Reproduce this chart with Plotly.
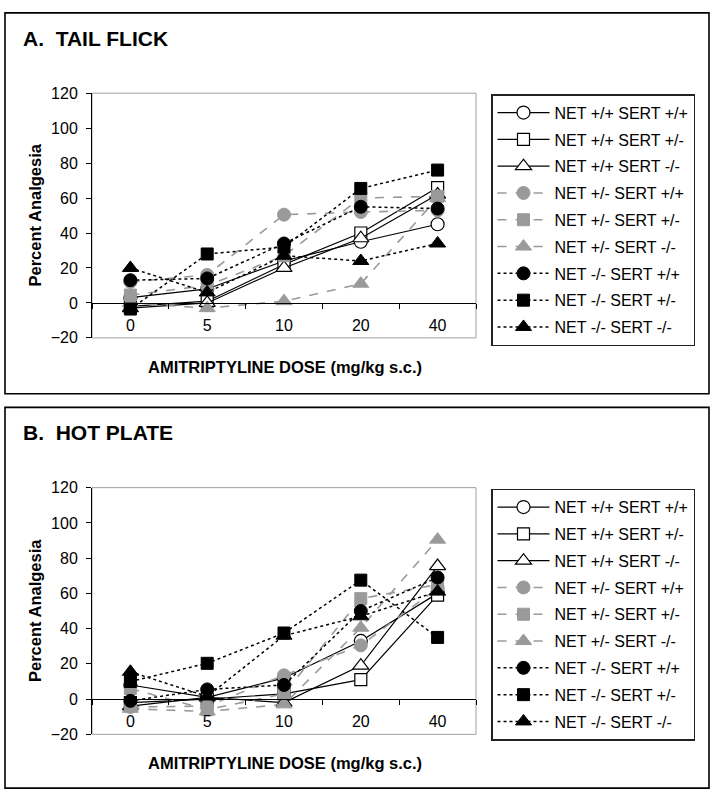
import plotly.graph_objects as go

W, H = 714, 805

doses = ["0", "5", "10", "20", "40"]
labels = [
    "NET +/+ SERT +/+", "NET +/+ SERT +/-", "NET +/+ SERT -/-",
    "NET +/- SERT +/+", "NET +/- SERT +/-", "NET +/- SERT -/-",
    "NET -/- SERT +/+", "NET -/- SERT +/-", "NET -/- SERT -/-",
]

# Panel A: Tail flick (% analgesia)
tf_wt_wt = [3, 8, 24, 35, 45]
tf_wt_het = [-2, 1, 22, 40, 66]
tf_wt_ko = [-3, 0, 20, 37, 62]
tf_het_wt = [12, 16, 50.5, 52, 53]
tf_het_het = [4.5, 10, 27, 60, 61]
tf_het_ko = [0, -3, 1, 11, 60]
tf_ko_wt = [13, 14, 34, 55, 54]
tf_ko_het = [-3.5, 28, 32, 65.5, 76]
tf_ko_ko = [20, 6, 27, 24, 34]

# Panel B: Hot plate (% analgesia)
hp_wt_wt = [8, 1, 12, 33, 60]
hp_wt_het = [-2, 0, 3, 11, 59]
hp_wt_ko = [-4, 1, -2, 19, 75.5]
hp_het_wt = [-4.5, -4, 13.5, 30.5, 63]
hp_het_het = [6, -6, 3, 57, 65]
hp_het_ko = [-5.5, -7, -3, 40.5, 90.5]
hp_ko_wt = [-1, 5.5, 8, 50, 69]
hp_ko_het = [10, 20.3, 37.5, 67.5, 35]
hp_ko_ko = [15.5, 1.5, 36, 47, 61]

tail_flick = [tf_wt_wt, tf_wt_het, tf_wt_ko, tf_het_wt, tf_het_het, tf_het_ko,
              tf_ko_wt, tf_ko_het, tf_ko_ko]
hot_plate = [hp_wt_wt, hp_wt_het, hp_wt_ko, hp_het_wt, hp_het_het, hp_het_ko,
             hp_ko_wt, hp_ko_het, hp_ko_ko]

y_ticks = [-20, 0, 20, 40, 60, 80, 100, 120]

FONT = "Liberation Sans, Arial, sans-serif"
GREY = "#9a9a9a"


def px(x):
    return x / W


def py(y):
    return 1 - y / H


symbols = ["circle", "square", "triangle-up"]
sizes = [13, 12, 14]


def style(i):
    g, s = divmod(i, 3)
    if g == 0:
        line = dict(color="black", width=1.2, dash="solid")
        marker = dict(symbol=symbols[s], size=sizes[s], color="white",
                      line=dict(color="black", width=1.2))
    elif g == 1:
        line = dict(color=GREY, width=1.6, dash="dash")
        marker = dict(symbol=symbols[s], size=sizes[s], color=GREY,
                      line=dict(color=GREY, width=1))
    else:
        line = dict(color="black", width=1.5, dash="dot")
        marker = dict(symbol=symbols[s], size=sizes[s], color="black",
                      line=dict(color="black", width=1))
    return line, marker


fig = go.Figure()

panels = [
    dict(data=tail_flick, xa="x", ya="y", legend="legend", top=87, bot=337),
    dict(data=hot_plate, xa="x2", ya="y2", legend="legend2", top=490, bot=742),
]

for p in panels:
    for i, vals in enumerate(p["data"]):
        line, marker = style(i)
        fig.add_trace(go.Scatter(
            x=doses, y=vals, mode="lines+markers", name=labels[i],
            line=line, marker=marker, xaxis=p["xa"], yaxis=p["ya"],
            legend=p["legend"], legendgroup=p["legend"] + str(i),
            cliponaxis=False,
        ))

x_dom = [px(92), px(476)]
axis_font = dict(family=FONT, size=16, color="black")

layout_axes = {}
for k, p in enumerate(panels):
    sfx = "" if k == 0 else "2"
    top, bot = p["top"], p["bot"]
    zero_px = bot - (0 - (-20)) * (bot - top) / 140.0
    layout_axes["yaxis" + sfx] = dict(
        domain=[py(bot), py(top)], range=[-20, 120], tickvals=y_ticks,
        showgrid=False, zeroline=False, showline=True, linecolor="black",
        linewidth=1, ticks="outside", ticklen=5, tickcolor="black",
        tickfont=axis_font, anchor="x" + sfx, ticklabelstandoff=5,
    )
    layout_axes["xaxis" + sfx] = dict(
        domain=x_dom, type="category", categoryorder="array",
        categoryarray=doses, range=[-0.5, 4.5], showgrid=False,
        zeroline=False, showline=True, linecolor="black", linewidth=1,
        ticks="outside", ticklen=5, tickcolor="black", tickson="boundaries",
        tickfont=axis_font, anchor="free", position=py(zero_px),
        ticklabelstandoff=8,
    )

shapes = []
# panel outer boxes
for (y0, y1) in [(5, 394), (408, 797)]:
    shapes.append(dict(type="rect", xref="paper", yref="paper",
                       x0=px(5), x1=px(709), y0=py(y1), y1=py(y0),
                       line=dict(color="black", width=1.6), layer="below"))
# plot area frames
for sfx in ["", "2"]:
    shapes.append(dict(type="rect", xref="x%s domain" % sfx, yref="y%s domain" % sfx,
                       x0=0, x1=1, y0=0, y1=1,
                       line=dict(color="#a0a0a0", width=1), layer="below"))

annotations = []
for k, (title, ty) in enumerate([("A.  TAIL FLICK", 31), ("B.  HOT PLATE", 434)]):
    annotations.append(dict(
        text="<b>%s</b>" % title, xref="paper", yref="paper", x=px(21), y=py(ty),
        xanchor="left", yanchor="middle", showarrow=False,
        font=dict(family="Liberation Sans Narrow, Arial Narrow, Liberation Sans, Arial",
                  size=21, color="black")))
for (top, bot, xt) in [(87, 337, 367), (490, 742, 771)]:
    annotations.append(dict(
        text="<b>AMITRIPTYLINE DOSE (mg/kg s.c.)</b>", xref="paper", yref="paper",
        x=px(285), y=py(xt), xanchor="center", yanchor="middle", showarrow=False,
        font=dict(family=FONT, size=16.5, color="black")))
    annotations.append(dict(
        text="<b>Percent Analgesia</b>", xref="paper", yref="paper",
        x=px(35), y=py((top + bot) / 2 + 0), xanchor="center", yanchor="middle",
        showarrow=False, textangle=-90,
        font=dict(family=FONT, size=16.5, color="black")))

legend_style = dict(
    xanchor="left", yanchor="top", bgcolor="white", bordercolor="#222222",
    borderwidth=1.5, font=dict(family=FONT, size=16, color="black"),
    tracegroupgap=3, itemwidth=52, itemclick=False, itemdoubleclick=False,
)

fig.update_layout(
    width=W, height=H, margin=dict(l=0, r=0, t=0, b=0, pad=0),
    paper_bgcolor="white", plot_bgcolor="white",
    shapes=shapes, annotations=annotations,
    legend=dict(x=px(491), y=py(88), **legend_style),
    legend2=dict(x=px(491), y=py(491), **legend_style),
    **layout_axes,
)

fig.write_html("out.html", config={"displayModeBar": False},
               post_script="document.body.style.margin='0px';")
